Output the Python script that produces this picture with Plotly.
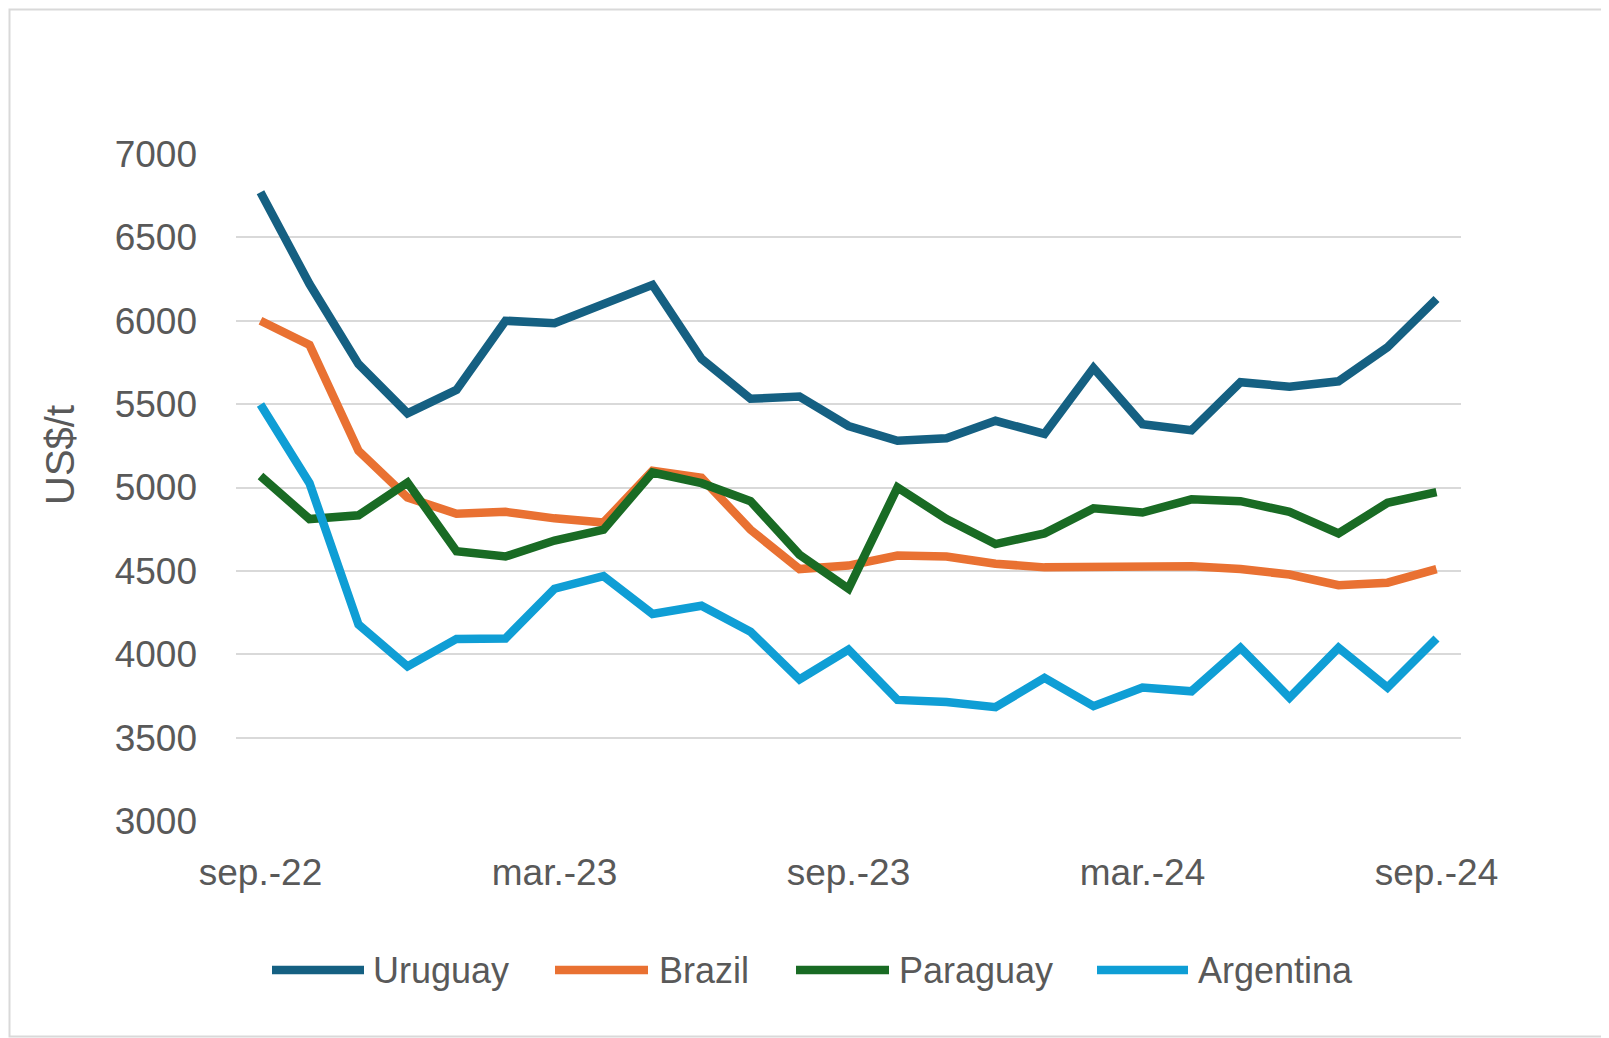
import plotly.graph_objects as go

months = ["sep.-22", "oct.-22", "nov.-22", "dic.-22", "ene.-23", "feb.-23", "mar.-23",
          "abr.-23", "may.-23", "jun.-23", "jul.-23", "ago.-23", "sep.-23", "oct.-23",
          "nov.-23", "dic.-23", "ene.-24", "feb.-24", "mar.-24", "abr.-24", "may.-24",
          "jun.-24", "jul.-24", "ago.-24", "sep.-24"]
tick_labels = ["sep.-22", "mar.-23", "sep.-23", "mar.-24", "sep.-24"]

uruguay = [6770, 6220, 5740, 5445, 5585, 6000, 5985, 6100, 6215, 5772, 5532, 5545, 5369,
           5280, 5295, 5400, 5322, 5717, 5380, 5343, 5631, 5605, 5637, 5841, 6131]
brazil = [6000, 5855, 5220, 4940, 4843, 4854, 4815, 4790, 5100, 5058, 4747, 4511, 4532,
          4592, 4586, 4543, 4521, 4521, 4528, 4528, 4511, 4478, 4414, 4429, 4511]
paraguay = [5069, 4811, 4833, 5030, 4618, 4586, 4682, 4747, 5090, 5026, 4918, 4597, 4393,
            5000, 4811, 4661, 4725, 4875, 4850, 4929, 4918, 4854, 4725, 4908, 4972]
argentina = [5498, 5026, 4178, 3927, 4092, 4095, 4393, 4468, 4242, 4291, 4135, 3849, 4028,
             3726, 3714, 3683, 3858, 3689, 3800, 3778, 4039, 3740, 4039, 3800, 4095]

series = [("Uruguay", uruguay, "#156082"),
          ("Brazil", brazil, "#E97132"),
          ("Paraguay", paraguay, "#196B24"),
          ("Argentina", argentina, "#0F9ED5")]

W, H = 1609, 1038
OFF = 8  # page body margin
# plot area in window pixels: x 236..1461, y 154..821
L, T = 236 - OFF, 154 - OFF
PW, PH = 1225, 667
R, B = W - L - PW, H - T - PH

def px(x):  # window pixel -> paper
    return (x - OFF - L) / PW

def py(y):
    return (T + PH - (y - OFF)) / PH

fig = go.Figure()
for name, vals, col in series:
    fig.add_trace(go.Scatter(x=months, y=vals, mode="lines", name=name,
                             line=dict(color=col, width=8.5), showlegend=False))

font_txt = "Liberation Sans, Arial, sans-serif"
shapes = []
annotations = []
# manual legend (window pixel positions)
leg_pos = [(272, 364, 371), (555, 648, 657), (796, 889, 897), (1097, 1188, 1196)]
leg_y = 970
for (name, vals, col), (x0, x1, xt) in zip(series, leg_pos):
    shapes.append(dict(type="line", xref="paper", yref="paper",
                       x0=px(x0), x1=px(x1), y0=py(leg_y), y1=py(leg_y),
                       line=dict(color=col, width=8.5)))
    annotations.append(dict(text=name, xref="paper", yref="paper", x=px(xt), y=py(leg_y),
                            xanchor="left", yanchor="middle", showarrow=False,
                            font=dict(family=font_txt, size=36, color="#595959")))
# y title
annotations.append(dict(text="US$/t", xref="paper", yref="paper", x=px(60), y=py(455),
                        xanchor="center", yanchor="middle", textangle=-90, showarrow=False,
                        font=dict(family=font_txt, size=40, color="#595959")))
# outer border
shapes.append(dict(type="rect", xref="paper", yref="paper", layer="below",
                   x0=px(OFF + 1.5), x1=px(W - 1.5), y0=py(OFF + 1.5), y1=py(H - 1.5),
                   line=dict(color="#D9D9D9", width=2)))

fig.update_layout(
    width=W, height=H,
    margin=dict(l=L, r=R, t=T, b=B),
    paper_bgcolor="white", plot_bgcolor="white",
    shapes=shapes, annotations=annotations,
    xaxis=dict(type="category", categoryorder="array", categoryarray=months,
               range=[-0.5, len(months) - 0.5], tickvals=tick_labels, ticktext=tick_labels,
               showgrid=False, zeroline=False, showline=False, ticks="",
               ticklabelstandoff=26,
               tickfont=dict(family=font_txt, size=37, color="#595959")),
    yaxis=dict(range=[3000, 7000], dtick=500, tick0=3000, showgrid=True,
               gridcolor="#D9D9D9", gridwidth=2, zeroline=False, showline=False,
               ticks="", ticklabelstandoff=38,
               tickfont=dict(family=font_txt, size=37, color="#595959")),
)

fig.write_html("out.html")
